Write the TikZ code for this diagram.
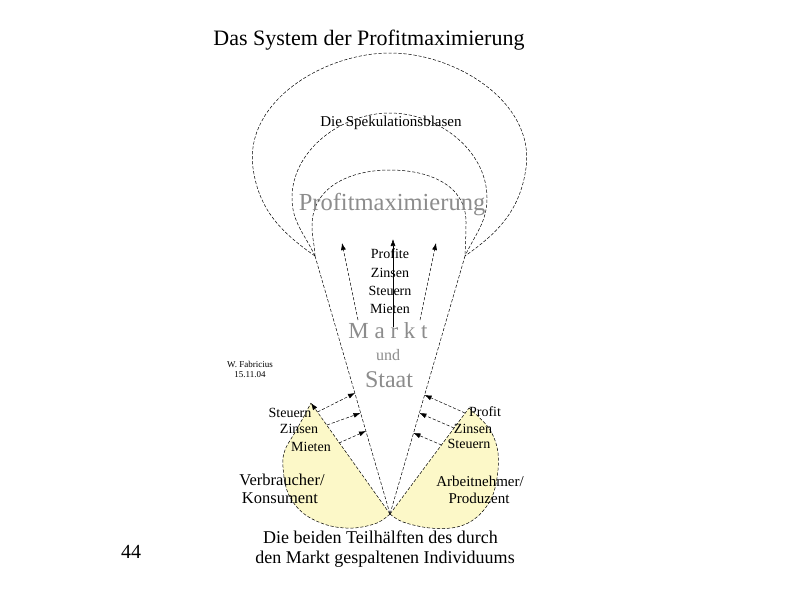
\documentclass[tikz,border=0pt]{standalone}
\usepackage{fontspec}
\setmainfont{Liberation Serif}
\usetikzlibrary{arrows.meta}
\definecolor{lobe}{RGB}{252,248,200}
\definecolor{grtxt}{RGB}{140,140,140}
\begin{document}
\begin{tikzpicture}[x=1pt,y=-1pt,
  dsh/.style={dash pattern=on 3.2pt off 1.8pt, line width=0.5pt},
  sol/.style={line width=0.55pt},
  arr/.style={-{Latex[length=7pt,width=5pt]}},
  txt/.style={anchor=base, inner sep=0pt},
  fs/.style={font=\fontsize{#1}{#1}\selectfont}]
\useasboundingbox (0,0) rectangle (794,595);
\fill[white] (0,0) rectangle (794,595);

% key points
\coordinate (Lj) at (315,256);
\coordinate (Rj) at (465,256);
\coordinate (B)  at (390,514);
\coordinate (T1) at (311,403);
\coordinate (T2) at (469,408);

% lobes (fill)
\fill[lobe] (T1) -- plot[smooth,tension=0.6] coordinates {(B) (377,523) (353,528) (327,525) (303,513) (288,493) (283,467) (285,450) (297,429) (T1)} -- cycle;
\fill[lobe] (T2) -- plot[smooth,tension=0.6] coordinates {(B) (403,522) (430,528) (457,527) (477,517) (492,497) (498,470) (497,447) (488,427) (T2)} -- cycle;

% lobe outlines
\draw[dsh] plot[smooth,tension=0.6] coordinates {(B) (377,523) (353,528) (327,525) (303,513) (288,493) (283,467) (285,450) (297,429) (T1)};
\draw[dsh] plot[smooth,tension=0.6] coordinates {(B) (403,522) (430,528) (457,527) (477,517) (492,497) (498,470) (497,447) (488,427) (T2)};
\draw[dsh,arr] (B) -- (T1);
\draw[dsh] (B) -- (T2);

% balloon arcs
\draw[dsh] (Lj) to[out=92,in=-90] (312,226) to[out=90,in=180,looseness=1.05] (390,170) to[out=0,in=90,looseness=1.05] (466,222) to[out=-90,in=88] (Rj);
\draw[dsh] (Lj) to[out=115,in=-90] (292,198) to[out=90,in=180,looseness=0.95] (390,113) to[out=0,in=90,looseness=0.95] (487,198) to[out=-90,in=65] (Rj);
\draw[dsh] (Lj) to[out=145,in=-82] (253,168) to[out=98,in=180,looseness=0.95] (390,53) to[out=0,in=82,looseness=0.95] (526,168) to[out=-98,in=35] (Rj);

% cone
\draw[dsh] (Lj) -- (B);
\draw[dsh] (Rj) -- (B);

% upward arrows
\coordinate (ua1) at (358,320); \coordinate (ub1) at (342,243);
\coordinate (ua2) at (393,327); \coordinate (ub2) at (393,239);
\coordinate (ua3) at (420,320); \coordinate (ub3) at (436,243);
\draw[dsh,arr] (ua1) -- (ub1);
\draw[sol,arr] (ua2) -- (ub2);
\draw[dsh,arr] (ua3) -- (ub3);

% left lobe arrows
\coordinate (ls1) at (317.5,412); \coordinate (le1) at (355,393);
\coordinate (ls2) at (327,425);   \coordinate (le2) at (360.5,413);
\coordinate (ls3) at (339,443);   \coordinate (le3) at (366,431);
\draw[dsh,arr] (ls1) -- (le1);
\draw[dsh,arr] (ls2) -- (le2);
\draw[dsh,arr] (ls3) -- (le3);

% right lobe arrows
\coordinate (rs1) at (465,413); \coordinate (re1) at (424.6,395);
\coordinate (rs2) at (454,428); \coordinate (re2) at (419.4,413);
\coordinate (rs3) at (441.5,445); \coordinate (re3) at (413.5,433);
\draw[dsh,arr] (rs1) -- (re1);
\draw[dsh,arr] (rs2) -- (re2);
\draw[dsh,arr] (rs3) -- (re3);

% texts
\node[txt,fs=22] (title) at (369,45) {Das System der Profitmaximierung};
\node[txt,fs=15] (spek) at (391,126) {Die Spekulationsblasen};
\node[txt,fs=24.5,text=grtxt] (pm) at (392,210) {Profitmaximierung};
\node[txt,fs=14] (p1) at (390,258) {Profite};
\node[txt,fs=14] (p2) at (390,277) {Zinsen};
\node[txt,fs=14] (p3) at (390,295) {Steuern};
\node[txt,fs=14] (p4) at (390,313) {Mieten};
\node[txt,fs=23,text=grtxt] (markt) at (388,338) {M a r k t};
\node[txt,fs=16,text=grtxt] (und) at (388,360) {und};
\node[txt,fs=24,text=grtxt] (staat) at (389,387) {Staat};
\node[txt,fs=9] (fab1) at (250,367) {W. Fabricius};
\node[txt,fs=9] (fab2) at (250,377) {15.11.04};
\node[txt,fs=14] (l1) at (290,417) {Steuern};
\node[txt,fs=14] (l2) at (299,433) {Zinsen};
\node[txt,fs=14] (l3) at (311,451) {Mieten};
\node[txt,fs=16.5] (v1) at (282,485) {Verbraucher/};
\node[txt,fs=16.5] (v2) at (280,503) {Konsument};
\node[txt,fs=14] (r1) at (485,416) {Profit};
\node[txt,fs=14] (r2) at (473,433) {Zinsen};
\node[txt,fs=14] (r3) at (469,448) {Steuern};
\node[txt,fs=15] (a1) at (480,486) {Arbeitnehmer/};
\node[txt,fs=15] (a2) at (479,503) {Produzent};
\node[txt,fs=20] (num) at (131,558) {44};
\node[txt,fs=18] (b1) at (380.5,543) {Die beiden Teilhälften des durch};
\node[txt,fs=18] (b2) at (385,563) {den Markt gespaltenen Individuums};
\end{tikzpicture}
\end{document}
